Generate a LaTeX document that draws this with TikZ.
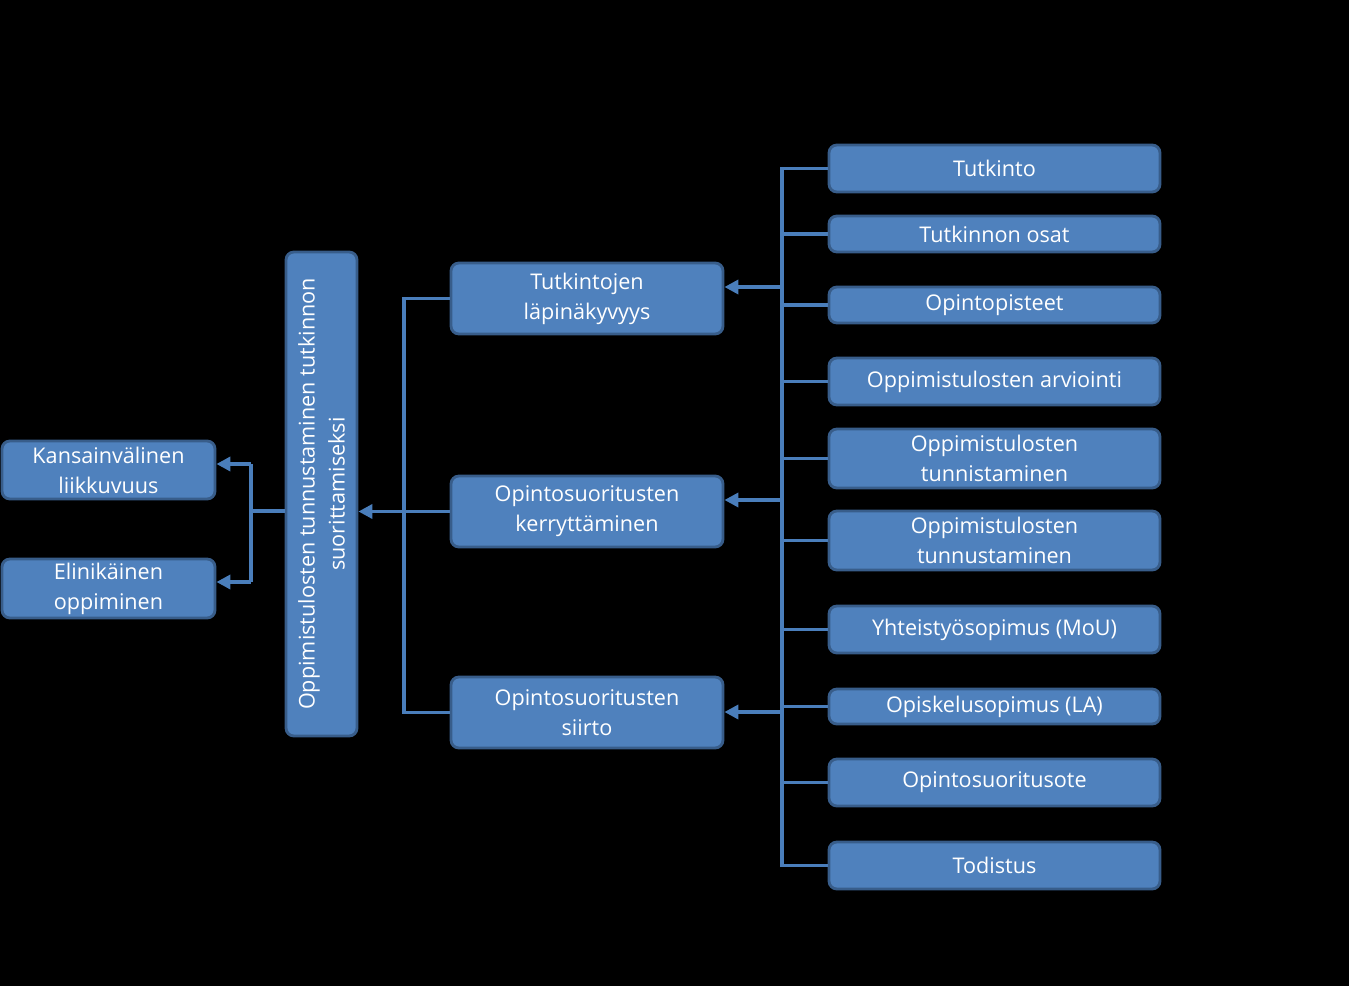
\documentclass[tikz,border=0pt]{standalone}
\usepackage{fontspec}
\setmainfont{Open Sans}
\usepackage{tikz}
\usetikzlibrary{arrows.meta,positioning}

\definecolor{boxfill}{HTML}{4F81BD}
\definecolor{boxline}{HTML}{385D8A}
\definecolor{conn}{HTML}{4A7EBB}

\begin{document}
\begin{tikzpicture}[font=\fontsize{12.3}{17}\selectfont]
		\tikzstyle{Box}		= [rectangle, rounded corners=4.5pt, draw=boxline, line width=1.6pt, fill=boxfill, text=white, align=center, inner sep=2pt]
		\tikzstyle{Wide}	= [Box, minimum width=6.62cm]
		\tikzstyle{Mid}		= [Box, minimum width=5.44cm, minimum height=1.42cm]
		\tikzstyle{Side}	= [Box, minimum width=4.26cm]
		\tikzstyle{Line}	= [conn, line width=2.2pt]
		\tikzstyle{Arrow}	= [Line, -{Triangle[length=8pt,width=8pt]}]

		\fill[black] (0,0) rectangle (26.98,-19.72);
		\useasboundingbox (0,0) rectangle (26.98,-19.72);

		% left side
		\node (kv) at (2.17,-9.40) [Side, minimum height=1.16cm] {Kansainvälinen\\liikkuvuus};
		\node (el) at (2.17,-11.77) [Side, minimum height=1.18cm] {Elinikäinen\\oppiminen};

		% centre column
		\node (ot) at (6.43,-9.88) [Box, rotate=90, minimum width=9.68cm, minimum height=1.42cm] {Oppimistulosten tunnustaminen tutkinnon\\suorittamiseksi};

		\node (tl) at (11.74,-5.97) [Mid] {Tutkintojen\\läpinäkyvyys};
		\node (ok) at (11.74,-10.23) [Mid] {Opintosuoritusten\\kerryttäminen};
		\node (os) at (11.74,-14.25) [Mid] {Opintosuoritusten\\siirto};

		% right column
		\node (tk)  at (19.89,-3.37)  [Wide, minimum height=0.94cm] {Tutkinto};
		\node (to)  at (19.89,-4.68)  [Wide, minimum height=0.72cm] {Tutkinnon osat};
		\node (op)  at (19.89,-6.10)  [Wide, minimum height=0.72cm] {Opintopisteet};
		\node (oa)  at (19.89,-7.63)  [Wide, minimum height=0.94cm] {Oppimistulosten arviointi};
		\node (otn) at (19.89,-9.17)  [Wide, minimum height=1.18cm] {Oppimistulosten\\tunnistaminen};
		\node (otu) at (19.89,-10.81) [Wide, minimum height=1.18cm] {Oppimistulosten\\tunnustaminen};
		\node (ym)  at (19.89,-12.59) [Wide, minimum height=0.94cm] {Yhteistyösopimus (MoU)};
		\node (ol)  at (19.89,-14.13) [Wide, minimum height=0.70cm] {Opiskelusopimus (LA)};
		\node (oo)  at (19.89,-15.65) [Wide, minimum height=0.94cm] {Opintosuoritusote};
		\node (td)  at (19.89,-17.31) [Wide, minimum height=0.94cm] {Todistus};

		% junction points
		\coordinate (rt) at (15.64,-3.37);
		\coordinate (rb) at (15.64,-17.31);
		\coordinate (r1) at (15.64,-5.74);
		\coordinate (r2) at (15.64,-10.00);
		\coordinate (r3) at (15.64,-14.24);
		\coordinate (mt) at (8.08,-5.97);
		\coordinate (mb) at (8.08,-14.25);
		\coordinate (lj) at (5.02,-10.22);
		\coordinate (l1) at (5.02,-9.28);
		\coordinate (l2) at (5.02,-11.64);

		% right tree
		\draw [Line] (tk.west) -- (rt) -- (rb) -- (td.west);
		\foreach \n in {to,op,oa,otn,otu,ym,ol,oo}
			\draw [Line] (\n.west) -- (\n.west -| rt);
		\draw [Arrow] (r1) -- (r1 -| tl.east);
		\draw [Arrow] (r2) -- (r2 -| ok.east);
		\draw [Arrow] (r3) -- (r3 -| os.east);

		% middle tree
		\draw [Line] (tl.west) -- (mt) -- (mb) -- (os.west);
		\draw [Arrow] (ok.west) -- (ok.west -| ot.south);

		% left tree
		\draw [Line] (ot.north |- lj) -- (lj);
		\draw [Line] (l1) -- (l2);
		\draw [Arrow] (l1) -- (l1 -| kv.east);
		\draw [Arrow] (l2) -- (l2 -| el.east);
	\end{tikzpicture}
\end{document}
